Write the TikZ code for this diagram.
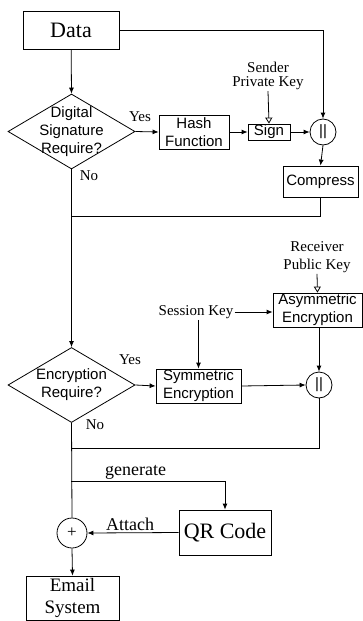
\documentclass[tikz,border=0pt]{standalone}
\usepackage{fontspec}
\setmainfont{Liberation Serif}
\setsansfont{Liberation Sans}
\usetikzlibrary{shapes.geometric,arrows.meta}

\begin{document}
\begin{tikzpicture}[x=1pt,y=-1pt,line width=0.8pt,
	box/.style={draw,inner sep=0pt,align=center},
	dec/.style={draw,diamond,inner sep=0pt,minimum width=127pt,minimum height=75pt},
	junc/.style={draw,circle,inner sep=0pt,minimum size=26pt},
	sf/.style={font=\sffamily\fontsize{15}{18}\selectfont,align=center},
	rm/.style={font=\fontsize{15}{14}\selectfont,align=center,inner sep=1pt},
	arr/.style={-{Latex[length=6pt,width=5pt]}},
	keyarr/.style={-{Triangle[open,length=6pt,width=7pt]}}]
	\useasboundingbox (0,0) rectangle (363,621);
		% signature part
		\node[box,minimum width=96pt,minimum height=38pt,font=\fontsize{22}{24}\selectfont] (data) at (71,30) {Data};
		\node[dec,label={[sf,name=sigtxt]center:Digital\\Signature\\Require?}] (sig) at (71.5,131.5) {};
		\node[box,sf,minimum width=70pt,minimum height=34pt] (hash) at (194,132) {Hash\\Function};
		\node[box,sf,minimum width=42pt,minimum height=16pt] (sign) at (269,132) {Sign};
		\node[rm,font=\fontsize{15}{14}\selectfont] (spk) at (268,76) {Sender\\Private Key};
		\node[junc,sf] (cat1) at (323,132) {||};
		\node[box,sf,minimum width=75pt,minimum height=31pt] (comp) at (320.5,181.5) {Compress};
		\node[rm] (yes1) at (140,117) {Yes};
		\node[rm] (no1) at (89,176) {No};
		\coordinate (j1) at (71,216);
			\draw[arr] (data) -- (sig.north);
			\draw[arr] (data.east) -| (cat1.north);
			\draw[arr] (sig.east) -- (hash.west);
			\draw[arr] (hash.east) -- (sign.west);
			\draw[keyarr] (spk.south) -- (sign.north);
			\draw[arr] (sign.east) -- (cat1.west);
			\draw[arr] (cat1.south) -- (comp.north);
			\draw (comp.south) |- (j1);
		% encryption part
		\node[dec,label={[sf,name=enctxt]center:Encryption\\Require?}] (enc) at (71.5,385) {};
		\node[box,sf,minimum width=85pt,minimum height=34pt] (sym) at (198.5,386) {Symmetric\\Encryption};
		\node[rm] (skey) at (196,312) {Session Key};
		\node[box,sf,minimum width=89pt,minimum height=34pt] (asym) at (317.5,310) {Asymmetric\\Encryption};
		\node[rm,font=\fontsize{15}{18}\selectfont] (rpk) at (317,257) {Receiver\\Public Key};
		\node[junc,sf] (cat2) at (319,385) {||};
		\node[rm] (yes2) at (130,360) {Yes};
		\node[rm] (no2) at (95,425) {No};
		\coordinate (j2) at (71,448);
			\draw[arr] (sig.south) -- (enc.north);
			\draw[arr] (enc.east) -- (sym.west);
			\draw[arr] (skey.east) -- (skey.east -| asym.west);
			\draw[arr] (skey.south -| sym.north) -- (sym.north);
			\draw[keyarr] (rpk.south) -- (asym.north);
			\draw[arr] (asym.south -| cat2.north) -- (cat2.north);
			\draw[arr] (sym.east) -- (cat2.west);
			\draw (cat2.south) |- (j2);
		% QR code and email
		\coordinate (j3) at (71,481);
		\node[box,minimum width=92pt,minimum height=45pt,font=\fontsize{22}{24}\selectfont] (qr) at (225,532.5) {QR Code};
		\node[junc,minimum size=30pt,font=\fontsize{17}{18}\selectfont] (plus) at (72,533) {+};
		\node[box,minimum width=93pt,minimum height=44pt,font=\fontsize{19}{22}\selectfont] (email) at (72.5,598) {Email\\System};
			\draw (enc.south) -- (plus.north);
			\draw[arr] (j3) -| node[pos=0.21,above,font=\fontsize{18}{18}\selectfont,inner sep=1pt] (gen) {generate} (qr.north);
			\draw[arr] (qr.west) -- node[above,font=\fontsize{18}{18}\selectfont,inner sep=2pt,xshift=-3pt] (att) {Attach} (plus.east);
			\draw[arr] (plus.south) -- (email.north);
\end{tikzpicture}
\end{document}
